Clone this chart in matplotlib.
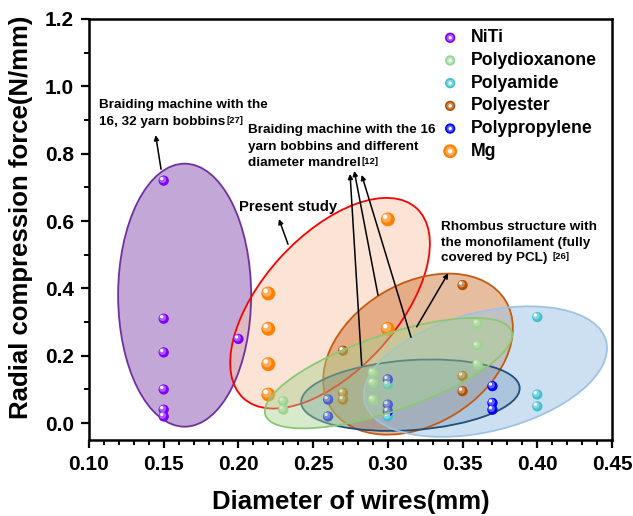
import numpy as np
import matplotlib
matplotlib.use('Agg')
import matplotlib.pyplot as plt
import matplotlib.transforms as mtransforms
from matplotlib.patches import Ellipse
from matplotlib.colors import to_rgb
from matplotlib.legend_handler import HandlerTuple

plt.rcParams['font.family'] = ['Liberation Sans', 'DejaVu Sans']
plt.rcParams['font.weight'] = 'bold'

# data
niti_x = [0.15, 0.15, 0.15, 0.15, 0.15, 0.15, 0.20]
niti_y = [0.72, 0.31, 0.21, 0.10, 0.04, 0.02, 0.25]

pdo_x = [0.23, 0.23, 0.29, 0.29, 0.29, 0.36, 0.36, 0.36]
pdo_y = [0.065, 0.04, 0.15, 0.12, 0.07, 0.295, 0.23, 0.175]

pa_x = [0.40, 0.40, 0.40, 0.30, 0.30]
pa_y = [0.315, 0.085, 0.05, 0.115, 0.02]

pet_x = [0.27, 0.27, 0.27, 0.35, 0.35, 0.35]
pet_y = [0.215, 0.09, 0.07, 0.41, 0.14, 0.095]

pp_x = [0.26, 0.26, 0.30, 0.30, 0.30, 0.37, 0.37, 0.37]
pp_y = [0.07, 0.02, 0.13, 0.055, 0.035, 0.11, 0.06, 0.04]

mg_x = [0.22, 0.22, 0.22, 0.22, 0.30, 0.30]
mg_y = [0.385, 0.28, 0.175, 0.085, 0.605, 0.28]

series = [
    ('NiTi', niti_x, niti_y, '#8000FF', 55),
    ('Polydioxanone', pdo_x, pdo_y, '#95D595', 55),
    ('Polyamide', pa_x, pa_y, '#40C0D0', 55),
    ('Polyester', pet_x, pet_y, '#B05000', 55),
    ('Polypropylene', pp_x, pp_y, '#0000FF', 55),
    ('Mg', mg_x, mg_y, '#FF8000', 100),
]

# group ellipses: centre (data), width/height in pixels, angle, face, edge
ell_cx = [0.164, 0.2613, 0.3202, 0.3151, 0.3653, 0.3004]
ell_cy = [0.380, 0.356, 0.205, 0.083, 0.153, 0.1485]
ell_w = [133, 257, 205, 219, 249, 260]
ell_h = [263, 135, 141, 70, 119, 76]
ell_ang = [0, 47.7, 31.5, 4, 14.2, 18.8]
ell_face = ['#7030A0', '#F8CBAD', '#C55A11', '#1F4E79', '#9DC3E6', '#A9D18E']
ell_alpha = [0.42, 0.5, 0.4, 0.3, 0.5, 0.45]
ell_edge = ['#7030A0', '#FF0000', '#C55A11', '#1F4E79', '#9DC3E6', '#8CC873']

fig = plt.figure(figsize=(6.33, 5.16), dpi=100)
ax = fig.add_axes([0.1406, 0.1473, 0.8262, 0.8159])
ax.set_xlim(0.10, 0.45)
ax.set_ylim(-0.05, 1.2)

for i in range(len(ell_cx)):
    tr = (mtransforms.Affine2D().scale(fig.dpi / 100)
          + mtransforms.ScaledTranslation(ell_cx[i], ell_cy[i], ax.transData))
    z = 5 if i == 5 else 1
    e = Ellipse((0, 0), ell_w[i], ell_h[i], angle=ell_ang[i], transform=tr,
                facecolor=ell_face[i], alpha=ell_alpha[i], edgecolor='none', zorder=z)
    ax.add_patch(e)
    e2 = Ellipse((0, 0), ell_w[i], ell_h[i], angle=ell_ang[i], transform=tr,
                 facecolor='none', edgecolor=ell_edge[i], lw=1.3, zorder=z + 0.1)
    ax.add_patch(e2)


def lighten(c, f):
    r = np.array(to_rgb(c))
    return tuple(r + (1 - r) * f)


handles = []
for name, xs, ys, col, s in series:
    r = np.sqrt(s) / 2
    t_mid = mtransforms.offset_copy(ax.transData, fig, x=-0.2 * r, y=0.2 * r, units='points')
    t_hl = mtransforms.offset_copy(ax.transData, fig, x=-0.38 * r, y=0.38 * r, units='points')
    h1 = ax.scatter(xs, ys, s=s, color=col, edgecolors='none', zorder=3)
    h2 = ax.scatter(xs, ys, s=s * 0.45, color=lighten(col, 0.35), edgecolors='none',
                    zorder=3.1, transform=t_mid)
    h3 = ax.scatter(xs, ys, s=s * 0.1, color='white', edgecolors='none', zorder=3.2,
                    transform=t_hl)
    handles.append((h1, h2, h3))

leg = ax.legend(handles, [s[0] for s in series], handler_map={tuple: HandlerTuple(ndivide=1)},
                loc='upper left', bbox_to_anchor=(0.64, 1.013), frameon=False,
                fontsize=12.7, labelspacing=0.323, handletextpad=0.6, handlelength=1.2)

arrow_kw = dict(arrowstyle='-|>', color='black', lw=1.1, mutation_scale=7, shrinkA=0, shrinkB=0)
fs = 9.7
sup_fs = 6.8


def label_lines(x, ys, lines, sup):
    t = None
    for yy, s in zip(ys, lines):
        t = ax.text(x, yy, s, fontsize=fs, va='center', ha='left', zorder=6)
    ax.annotate(sup, xy=(1.0, 1.0), xycoords=t, xytext=(1, 0), textcoords='offset points',
                fontsize=sup_fs, va='top', ha='left', zorder=6)


label_lines(0.1067, [0.944, 0.895],
            ['Braiding machine with the', '16, 32 yarn bobbins'], '[27]')
ax.annotate('', xy=(0.1446, 0.855), xytext=(0.1482, 0.754), arrowprops=arrow_kw, zorder=6)

label_lines(0.2062, [0.870, 0.821, 0.771],
            ['Braiding machine with the 16', 'yarn bobbins and different', 'diameter mandrel'], '[12]')
ax.annotate('', xy=(0.2747, 0.74), xytext=(0.2825, 0.172), arrowprops=arrow_kw, zorder=6)
ax.annotate('', xy=(0.2775, 0.749), xytext=(0.2934, 0.38), arrowprops=arrow_kw, zorder=6)
ax.annotate('', xy=(0.2825, 0.737), xytext=(0.3155, 0.255), arrowprops=arrow_kw, zorder=6)

ax.text(0.2004, 0.642, 'Present study', fontsize=10.7, va='center', ha='left', zorder=6)
ax.annotate('', xy=(0.2271, 0.606), xytext=(0.2332, 0.531), arrowprops=arrow_kw, zorder=6)

label_lines(0.3354, [0.583, 0.534, 0.489],
            ['Rhombus structure with', 'the monofilament (fully', 'covered by PCL) '], '[26]')
ax.annotate('', xy=(0.3404, 0.445), xytext=(0.3193, 0.286), arrowprops=arrow_kw, zorder=6)

ax.set_xticks(np.arange(0.10, 0.451, 0.05))
ax.set_xticks(np.arange(0.10, 0.451, 0.01), minor=True)
ax.set_yticks(np.arange(0.0, 1.21, 0.2))
ax.set_yticks(np.arange(0.0, 1.21, 0.1), minor=True)
ax.xaxis.set_major_formatter(plt.FormatStrFormatter('%.2f'))
ax.yaxis.set_major_formatter(plt.FormatStrFormatter('%.1f'))
ax.tick_params(which='major', direction='out', length=6, width=1.6, labelsize=15, pad=5)
ax.tick_params(which='minor', direction='out', length=3.5, width=1.4)
for sp in ax.spines.values():
    sp.set_linewidth(1.8)

ax.set_xlabel('Diameter of wires(mm)', fontsize=18.5, fontweight='bold', labelpad=11)
ax.set_ylabel('Radial compression force(N/mm)', fontsize=18.5, fontweight='bold')
ax.yaxis.set_label_coords(-0.107, 0.53)

fig.savefig('out.png', dpi=100)
